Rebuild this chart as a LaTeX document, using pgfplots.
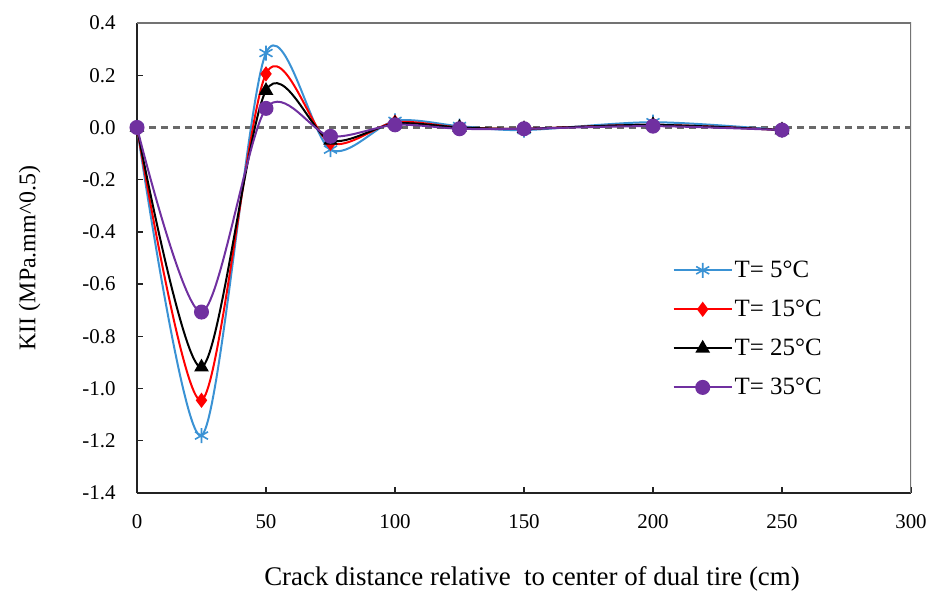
\documentclass[border=0pt]{standalone}
\usepackage{fontspec}
\setmainfont{Liberation Serif}
\usepackage{pgfplots}
\pgfplotsset{compat=1.18}

\definecolor{cFive}{RGB}{58,146,212}
\definecolor{cFifteen}{RGB}{255,0,0}
\definecolor{cTwentyFive}{RGB}{0,0,0}
\definecolor{cThirtyFive}{RGB}{112,48,160}
\definecolor{frameDark}{RGB}{35,35,35}
\definecolor{frameLight}{RGB}{115,115,115}
\definecolor{zeroLine}{RGB}{105,105,105}

\begin{document}
\begin{tikzpicture}
\useasboundingbox (-137bp,-110bp) rectangle (802bp,493bp);
\begin{axis}[
  scale only axis,
  width=774bp, height=470bp,
  at={(0,0)}, anchor=south west,
  xmin=0, xmax=300, ymin=-1.4, ymax=0.4,
  xtick={0,50,...,300},
  ytick={-1.4,-1.2,...,0.4},
  axis lines=left,
  axis line style={-, frameDark, line width=2.2bp},
  tick align=inside,
  major tick length=6bp,
  tick style={frameDark, line width=1.4bp},
  ticklabel style={font=\fontsize{21}{25}\selectfont},
  /pgf/number format/assume math mode=true,
  yticklabel style={/pgf/number format/fixed, /pgf/number format/fixed zerofill,
    /pgf/number format/precision=1, xshift=-18bp},
  xticklabel style={/pgf/number format/fixed, yshift=-18bp},
  xlabel={Crack distance relative\ \ to center of dual tire (cm)},
  ylabel={KII (MPa.mm\textasciicircum 0.5)},
  xlabel style={font=\fontsize{27}{31}\selectfont, yshift=-31bp, xshift=8bp},
  ylabel style={font=\fontsize{24}{28}\selectfont, yshift=35bp},
  legend style={draw=none, fill=none, at={(0.688,0.502)}, anchor=north west,
    font=\fontsize{25}{29}\selectfont, row sep=17bp,
    /tikz/every even column/.append style={column sep=1bp}},
  legend cell align=left,
  legend image code/.code={
    \draw[#1, mark repeat=2, mark phase=2] plot coordinates {(0bp,0bp) (29bp,0bp) (58bp,0bp)};},
]
% zero reference line
\addplot[forget plot, zeroLine, dash pattern=on 7bp off 5bp, line width=2.3bp]
  coordinates {(0,0) (300,0)};

\addplot[cFive, smooth, line width=2bp, mark=asterisk, mark size=7.5bp,
  mark options={solid, line width=1.6bp}]
  coordinates {(0,0) (25,-1.18) (50,0.285) (75,-0.085) (100,0.025) (125,0.005) (150,-0.01) (200,0.02) (250,-0.01)};
\addlegendentry{T= 5°C}

\addplot[cFifteen, smooth, line width=2bp, mark=diamond*, mark size=6bp,
  mark options={solid}]
  coordinates {(0,0) (25,-1.045) (50,0.205) (75,-0.06) (100,0.02) (125,0.0) (150,-0.005) (200,0.01) (250,-0.01)};
\addlegendentry{T= 15°C}

\addplot[cTwentyFive, smooth, line width=2bp, mark=triangle*, mark size=6.5bp,
  mark options={solid}]
  coordinates {(0,0) (25,-0.918) (50,0.141) (75,-0.05) (100,0.015) (125,0.0) (150,-0.005) (200,0.01) (250,-0.01)};
\addlegendentry{T= 25°C}

\addplot[cThirtyFive, smooth, line width=2bp, mark=*, mark size=6.5bp,
  mark options={solid}]
  coordinates {(0,0) (25,-0.707) (50,0.073) (75,-0.034) (100,0.01) (125,-0.005) (150,-0.005) (200,0.005) (250,-0.01)};
\addlegendentry{T= 35°C}

% upper and right frame
\draw[frameLight, line width=2.2bp] (rel axis cs:0,1) -- (rel axis cs:1,1) -- (rel axis cs:1,0);
\end{axis}
\end{tikzpicture}
\end{document}
